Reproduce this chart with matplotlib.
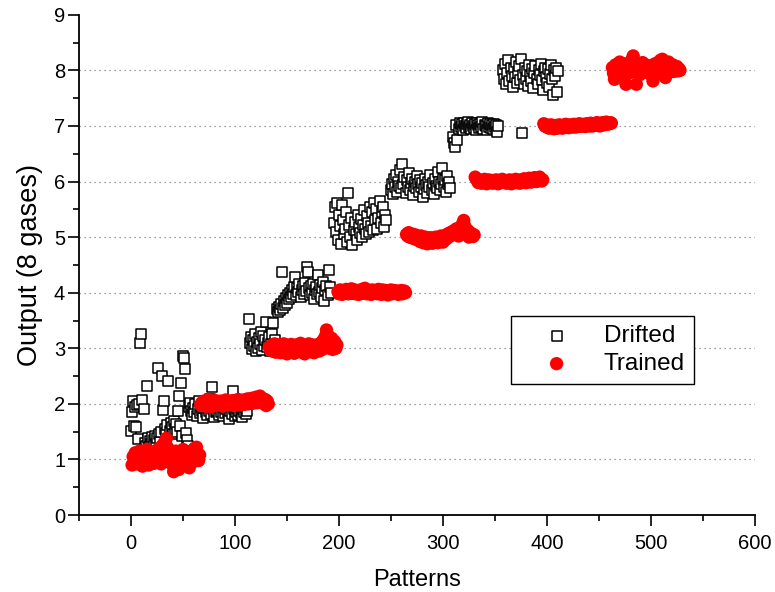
import numpy as np
import matplotlib
matplotlib.use("Agg")
import matplotlib.pyplot as plt
from matplotlib.ticker import MultipleLocator

plt.rcParams['font.family'] = ['Liberation Sans', 'DejaVu Sans']

# ---- Drifted (open squares): start pattern index per class and y values ----
drift_start = [0, 56, 113, 140, 195, 250, 310, 358]
d1 = [1.52, 1.86, 2.06, 1.60, 1.95, 1.59, 1.98, 1.37, 2.00, 3.10, 3.26, 2.07, 1.90, 1.30, 1.25,
      2.33, 1.38, 1.22, 1.33, 1.28, 1.40, 1.18, 1.35, 1.42, 1.27, 1.38, 2.64, 1.45, 1.32, 1.50,
      2.51, 1.89, 2.05, 1.55, 1.48, 1.62, 2.41, 1.52, 1.66, 1.58, 1.45, 1.70, 1.55, 1.63, 1.50,
      1.88, 2.14, 1.60, 2.37, 1.42, 2.87, 2.82, 2.62, 1.48, 1.35, 1.25]
d2 = [1.95, 2.02, 1.88, 1.80, 1.92, 1.85, 2.00, 1.78, 1.90, 2.05, 1.83, 1.95, 1.88, 1.75, 1.92,
      1.98, 1.85, 1.80, 1.93, 1.87, 2.08, 1.82, 2.30, 1.90, 1.76, 1.95, 1.85, 1.88, 2.00, 1.80,
      1.92, 1.86, 1.78, 1.94, 1.83, 1.90, 2.03, 1.85, 1.72, 1.88, 1.95, 1.82, 2.24, 1.90, 1.78,
      1.86, 1.93, 1.80, 1.88, 2.05, 1.84, 1.76, 1.90, 1.85, 1.95, 1.82, 1.88]
d3 = [3.52, 3.10, 3.20, 2.98, 3.15, 3.05, 3.25, 2.95, 3.12, 3.00, 3.18, 3.08, 3.30, 2.97, 3.22,
      3.05, 3.15, 3.48, 3.02, 3.10, 3.20, 2.95, 3.08, 3.25, 3.45, 3.15, 3.05]
d4 = [3.70, 3.65, 3.75, 3.68, 3.80, 4.37, 3.72, 3.85, 3.78, 3.90, 3.82, 3.95, 3.88, 4.00, 3.92,
      4.05, 3.98, 4.10, 4.28, 3.95, 4.08, 4.02, 4.15, 3.92, 4.05, 4.12, 3.98, 4.18, 4.03, 4.46,
      4.38, 4.08, 3.95, 4.12, 4.00, 4.15, 3.88, 4.05, 4.10, 3.97, 4.31, 4.02, 4.14, 3.92, 4.08,
      4.20, 3.85, 4.05, 4.12, 3.95, 4.41, 4.10, 4.00]
d5 = [5.25, 5.55, 5.10, 5.62, 4.95, 5.40, 5.20, 4.88, 5.58, 5.30, 5.05, 5.15, 5.45, 4.92, 5.80,
      5.22, 5.00, 5.35, 4.85, 5.12, 5.28, 5.05, 4.95, 5.40, 5.18, 5.08, 5.32, 5.00, 5.22, 5.48,
      5.15, 5.05, 5.38, 5.25, 5.10, 5.55, 5.20, 5.45, 5.12, 5.62, 5.30, 5.50, 5.15, 5.35, 5.65,
      5.25, 5.45, 5.55, 5.18, 5.40, 5.30]
d6 = [5.85, 5.95, 5.78, 6.05, 5.90, 6.12, 5.82, 6.00, 5.92, 6.20, 5.88, 6.32, 5.95, 6.08, 5.80,
      6.02, 5.90, 6.15, 5.85, 5.98, 6.05, 5.75, 5.92, 6.00, 5.88, 6.10, 5.95, 5.82, 6.03, 5.90,
      5.98, 5.72, 5.87, 6.05, 5.93, 5.80, 6.00, 5.90, 6.12, 5.85, 5.97, 5.78, 6.05, 5.92, 5.88,
      6.18, 6.00, 5.85, 5.95, 6.25, 6.05, 5.90, 6.02, 5.82, 6.10, 5.95, 6.00, 5.88]
d7 = [6.80, 6.70, 6.62, 7.02, 6.75, 6.95, 7.05, 6.98, 7.03, 6.92, 7.06, 7.00, 6.96, 7.04, 7.08,
      6.98, 7.02, 6.94, 7.05, 7.00, 6.97, 7.03, 6.93, 7.06, 7.01, 6.96, 7.04, 6.99, 7.07, 6.95,
      7.02, 7.00, 6.92, 7.05, 6.98, 7.03, 6.96, 7.01, 6.94, 7.04, 6.98, 7.02, 6.90, 7.00]
d8 = [8.00, 7.85, 8.12, 7.75, 7.95, 8.18, 7.80, 8.05, 7.90, 7.70, 8.02, 7.88, 8.15, 7.78, 7.95,
      8.08, 7.82, 8.20, 6.88, 7.92, 7.75, 8.05, 7.85, 7.98, 7.72, 8.10, 7.90, 7.80, 8.02, 7.68,
      7.95, 8.08, 7.85, 7.75, 8.00, 7.92, 8.12, 7.82, 7.65, 7.98, 8.05, 7.88, 7.78, 8.02, 7.70,
      7.93, 8.10, 7.85, 7.55, 8.00, 7.90, 8.05, 7.62, 7.98]
drifted_y = [d1, d2, d3, d4, d5, d6, d7, d8]

# ---- Trained (red filled circles) ----
train_start = [1, 67, 133, 199, 265, 331, 397, 463]
t1 = [0.90, 1.05, 0.95, 1.12, 1.00, 0.92, 1.08, 1.15, 0.98, 1.03, 0.88, 1.10, 1.05, 0.95, 1.18,
      1.00, 0.90, 1.07, 1.12, 0.97, 1.02, 0.93, 1.15, 1.05, 0.98, 1.10, 1.20, 1.00, 0.92, 1.25,
      1.08, 1.30, 1.15, 1.38, 1.22, 1.05, 0.95, 1.12, 1.00, 0.90, 0.78, 1.05, 1.15, 0.95, 1.02,
      0.82, 1.10, 0.88, 1.00, 1.18, 1.05, 0.93, 1.12, 0.98, 1.08, 0.85, 1.03, 1.15, 0.95, 1.10,
      1.20, 1.00, 1.22, 1.05, 0.98, 1.08]
t2 = [1.98, 2.02, 1.97, 2.05, 2.00, 1.96, 2.03, 2.08, 1.99, 2.01, 1.95, 2.04, 2.00, 1.97, 2.06,
      2.02, 1.98, 2.03, 1.99, 2.05, 2.01, 1.96, 2.04, 2.00, 2.07, 1.98, 2.02, 2.05, 1.99, 2.03,
      2.00, 2.06, 1.97, 2.02, 2.04, 2.00, 2.08, 1.98, 2.03, 2.05, 2.01, 2.07, 1.99, 2.04, 2.02,
      2.09, 2.00, 2.05, 2.03, 2.10, 2.01, 2.06, 2.04, 2.12, 2.02, 2.08, 2.05, 2.14, 2.03, 2.10,
      2.06, 2.00, 2.08, 1.97, 2.05, 2.00]
t3 = [3.02, 2.98, 3.05, 2.95, 3.00, 3.08, 2.93, 3.03, 2.97, 3.06, 3.00, 2.92, 3.04, 2.98, 3.08,
      2.95, 3.02, 2.90, 3.05, 3.00, 2.94, 3.07, 2.97, 3.03, 2.91, 3.00, 3.06, 2.95, 3.02, 2.98,
      3.09, 2.93, 3.04, 2.99, 2.90, 3.05, 3.01, 2.96, 3.08, 2.94, 3.03, 2.98, 3.06, 2.92, 3.00,
      3.04, 2.97, 3.07, 2.95, 3.02, 3.10, 2.98, 3.15, 3.05, 3.22, 3.33, 3.25, 3.12, 3.00, 3.08,
      3.18, 2.98, 3.05, 3.12, 3.00, 3.06]
t4 = [4.02, 3.98, 4.05, 4.00, 3.97, 4.04, 4.01, 3.99, 4.06, 4.02, 3.98, 4.03, 4.00, 4.07, 3.99,
      4.02, 4.05, 3.98, 4.01, 4.04, 3.97, 4.03, 4.00, 4.06, 3.99, 4.02, 4.08, 4.01, 3.98, 4.04,
      4.00, 4.03, 3.97, 4.05, 4.01, 3.99, 4.04, 4.02, 3.98, 4.06, 4.00, 4.03, 3.97, 4.05, 4.01,
      3.99, 4.04, 4.02, 3.96, 4.03, 4.00, 4.05, 3.98, 4.02, 4.04, 3.99, 4.01, 4.03, 3.97, 4.02,
      4.00, 4.04, 3.98, 4.01, 4.03, 4.00]
t5 = [5.05, 5.02, 5.08, 5.00, 5.06, 5.03, 4.98, 5.05, 5.01, 4.96, 5.03, 4.95, 4.99, 4.92, 5.02,
      4.94, 4.90, 4.97, 5.00, 4.93, 4.88, 4.96, 4.91, 4.99, 4.94, 4.89, 4.97, 4.92, 5.00, 4.95,
      4.90, 4.98, 4.93, 5.02, 4.96, 4.91, 5.00, 4.95, 5.04, 4.98, 5.06, 5.01, 5.08, 5.03, 5.10,
      5.05, 5.12, 5.06, 5.15, 5.08, 5.02, 5.10, 5.18, 5.12, 5.25, 5.30, 5.20, 5.10, 5.05, 5.12,
      5.00, 5.08, 5.03, 5.06, 5.01, 5.04]
t6 = [6.08, 6.05, 6.02, 5.98, 6.03, 6.00, 5.97, 6.02, 5.99, 6.04, 6.00, 5.96, 6.01, 6.03, 5.98,
      6.00, 6.02, 5.97, 6.01, 5.99, 6.03, 6.00, 5.96, 6.02, 5.98, 6.01, 6.04, 5.99, 6.00, 6.02,
      5.97, 6.01, 5.98, 6.03, 6.00, 5.96, 6.02, 5.99, 6.01, 6.04, 5.98, 6.00, 6.02, 5.97, 6.03,
      6.00, 5.99, 6.05, 6.01, 5.98, 6.03, 6.00, 6.06, 6.02, 5.99, 6.04, 6.01, 6.07, 6.03, 6.00,
      6.05, 6.02, 6.08, 6.04, 6.01, 6.03]
t7 = [7.04, 7.00, 7.02, 6.98, 7.01, 6.96, 6.99, 7.02, 6.97, 7.00, 6.95, 6.99, 7.01, 6.96, 6.98,
      7.02, 6.97, 7.00, 6.96, 7.01, 6.98, 7.03, 6.99, 7.00, 6.97, 7.02, 6.99, 7.01, 6.98, 7.03,
      7.00, 6.98, 7.02, 7.00, 7.04, 6.99, 7.01, 7.03, 7.00, 7.02, 6.99, 7.04, 7.01, 7.03, 7.00,
      7.05, 7.02, 7.00, 7.04, 7.01, 7.03, 7.06, 7.02, 7.04, 7.00, 7.05, 7.03, 7.06, 7.02, 7.04,
      7.07, 7.03, 7.05, 7.04, 7.06, 7.05]
t8 = [8.05, 7.95, 7.84, 8.10, 8.00, 7.92, 8.08, 8.15, 7.98, 8.05, 8.12, 7.90, 8.02, 7.75, 8.10,
      8.06, 7.95, 8.15, 8.00, 8.20, 8.26, 8.12, 7.98, 7.75, 8.05, 8.10, 7.92, 8.08, 8.02, 8.14,
      7.96, 8.06, 8.10, 8.00, 8.04, 7.95, 8.08, 8.02, 7.90, 7.81, 8.05, 8.12, 8.00, 7.94, 8.08,
      8.03, 8.18, 8.10, 8.20, 8.06, 7.98, 7.87, 8.12, 8.05, 8.15, 8.00, 8.08, 8.03, 8.10, 7.98,
      8.05, 8.02, 8.07, 7.99, 8.03, 8.00]
trained_y = [t1, t2, t3, t4, t5, t6, t7, t8]

xticks = [0, 100, 200, 300, 400, 500, 600]
yticks = [0, 1, 2, 3, 4, 5, 6, 7, 8, 9]

dx = np.concatenate([s + np.arange(len(v)) for s, v in zip(drift_start, drifted_y)])
dy = np.concatenate([np.asarray(v) for v in drifted_y])
tx = np.concatenate([s + np.arange(len(v)) for s, v in zip(train_start, trained_y)])
ty = np.concatenate([np.asarray(v) for v in trained_y])

fig = plt.figure(figsize=(7.75, 5.92), dpi=100)
ax = fig.add_axes([0.102, 0.130, 0.872, 0.845])

ax.scatter(dx, dy, marker='s', s=55, facecolors='white', edgecolors='black',
           linewidths=1.1, label='Drifted', zorder=3)
ax.scatter(tx, ty, marker='o', s=92, color='#ff0000', edgecolors='none',
           label='Trained', zorder=4)

ax.set_xlim(-50, 600)
ax.set_ylim(0, 9)
ax.set_xticks(xticks)
ax.set_yticks(yticks)
ax.xaxis.set_minor_locator(MultipleLocator(50))
ax.yaxis.set_minor_locator(MultipleLocator(0.5))
ax.tick_params(axis='both', which='major', direction='out', length=8, width=1.2,
               labelsize=14.5, colors='black')
ax.tick_params(axis='both', which='minor', direction='out', length=4, width=1.2)
ax.tick_params(axis='x', which='major', pad=6)
ax.tick_params(axis='y', which='major', pad=2)

for side in ['top', 'right']:
    ax.spines[side].set_visible(False)
for side in ['left', 'bottom']:
    ax.spines[side].set_linewidth(1.3)

for yv in yticks[1:-1]:
    ax.axhline(yv, color='#808080', linestyle=(0, (1, 3)), linewidth=0.9, zorder=1)

ax.set_xlabel('Patterns', fontsize=17, labelpad=11)
ax.set_ylabel('Output (8 gases)', fontsize=19.5, labelpad=8)

leg = ax.legend(loc='upper left', bbox_to_anchor=(0.639, 0.398), fontsize=17.5,
                frameon=True, fancybox=False, edgecolor='black', framealpha=1,
                handlelength=3.0, handletextpad=0.45, borderpad=0.38, labelspacing=0.24,
                markerscale=1.0, borderaxespad=0, scatterpoints=1)
leg.get_frame().set_linewidth(1.0)

fig.savefig('out.png', dpi=100)
